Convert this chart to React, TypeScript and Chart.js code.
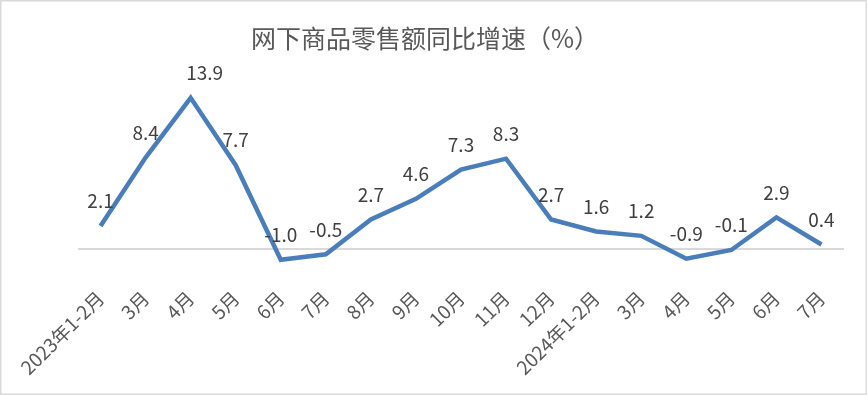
import React, { useEffect, useRef } from "react";
import { Chart, registerables } from "chart.js";

Chart.register(...registerables);

const TITLE = "网下商品零售额同比增速（%）";
const categories = [
  "2023年1-2月", "3月", "4月", "5月", "6月", "7月", "8月", "9月", "10月", "11月", "12月",
  "2024年1-2月", "3月", "4月", "5月", "6月", "7月",
];
const growth = [2.1, 8.4, 13.9, 7.7, -1.0, -0.5, 2.7, 4.6, 7.3, 8.3, 2.7, 1.6, 1.2, -0.9, -0.1, 2.9, 0.4];

const FONT = "'Noto Sans CJK SC', 'Noto Sans', sans-serif";

const bgPlugin = {
  id: "bgBorder",
  beforeDraw(chart: any) {
    const { ctx, width, height } = chart;
    ctx.save();
    ctx.fillStyle = "#ffffff";
    ctx.fillRect(0, 0, width, height);
    ctx.restore();
  },
  afterDraw(chart: any) {
    const { ctx, width, height } = chart;
    ctx.save();
    ctx.fillStyle = "#595959";
    ctx.font = `25px ${FONT}`;
    ctx.textAlign = "center";
    ctx.textBaseline = "middle";
    ctx.fillText(TITLE, 425, 38);
    ctx.strokeStyle = "#d9d9d9";
    ctx.lineWidth = 1.5;
    ctx.strokeRect(0.75, 0.75, width - 1.5, height - 1.5);
    ctx.restore();
  },
};

const labelPlugin = {
  id: "pointLabels",
  afterDatasetsDraw(chart: any) {
    const { ctx } = chart;
    const meta = chart.getDatasetMeta(0);
    ctx.save();
    ctx.font = `19px ${FONT}`;
    ctx.fillStyle = "#404040";
    ctx.textAlign = "center";
    ctx.textBaseline = "middle";
    meta.data.forEach((pt: any, i: number) => {
      const shift = i === 2 ? 14 : 0;
      ctx.fillText(growth[i].toFixed(1), pt.x + shift, pt.y - 25);
    });
    ctx.restore();
  },
};

export default function App() {
  const ref = useRef<HTMLCanvasElement | null>(null);
  useEffect(() => {
    if (!ref.current) return;
    const chart = new Chart(ref.current, {
      type: "line",
      data: {
        labels: categories,
        datasets: [
          {
            data: growth,
            borderColor: "#4a7ebb",
            borderWidth: 4.5,
            pointRadius: 0,
            tension: 0,
            fill: false,
          },
        ],
      },
      options: {
        animation: false,
        responsive: false,
        maintainAspectRatio: false,
        layout: { padding: { left: 78, right: 23, top: 75, bottom: 0 } },
        plugins: {
          legend: { display: false },
          tooltip: { enabled: false },
          title: { display: false },
        },
        scales: {
          x: {
            offset: true,
            grid: { display: false, drawTicks: false },
            border: { display: false },
            ticks: {
              autoSkip: false,
              maxRotation: 45,
              minRotation: 45,
              color: "#595959",
              padding: 16,
              font: { family: FONT, size: 19 },
            },
          },
          y: {
            min: -2,
            max: 16,
            ticks: { display: false, stepSize: 2 },
            border: { display: false },
            grid: {
              drawTicks: false,
              lineWidth: 2,
              color: (c: any) => (c.tick && c.tick.value === 0 ? "#d9d9d9" : "rgba(0,0,0,0)"),
            },
          },
        },
      },
      plugins: [bgPlugin, labelPlugin],
    });
    return () => chart.destroy();
  }, []);
  return (
    <div style={{ position: "fixed", left: 0, top: 0, width: 867, height: 395 }}>
      <canvas ref={ref} width={867} height={395} style={{ width: 867, height: 395 }} />
    </div>
  );
}
